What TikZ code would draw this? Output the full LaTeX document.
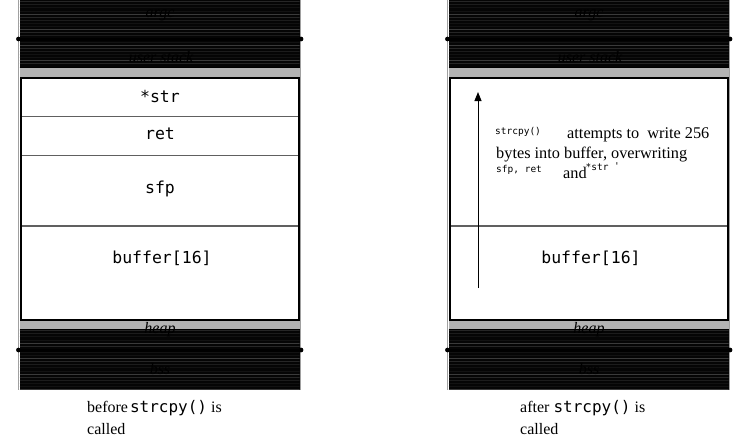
\documentclass[tikz,border=0pt]{standalone}
\usepackage{fontspec}
\setmainfont{Liberation Serif}
\newfontfamily\monof{DejaVu Sans Mono}
\usetikzlibrary{arrows.meta}
\definecolor{hatchbg}{HTML}{050505}
\definecolor{hl1}{HTML}{1C1C1C}
\definecolor{hl2}{HTML}{262626}
\definecolor{hl3}{HTML}{3A3A3A}
\definecolor{hl4}{HTML}{121212}
\definecolor{bandgray}{HTML}{B3B3B3}
\definecolor{outgray}{HTML}{A0A0A0}
\definecolor{cellline}{HTML}{606060}
\tikzset{
  outl/.style={draw=outgray, line width=1pt},
  bandfill/.style={fill=bandgray},
  boxline/.style={draw=black, line width=2pt, fill=white},
  cellsep/.style={draw=cellline, line width=1.4pt},
  divline/.style={draw=black, line width=3pt},
  divdot/.style={fill=black},
  darklabel/.style={font=\fontsize{16}{19}\selectfont\itshape, text=black, inner sep=0pt},
  celllabel/.style={font=\monof\fontsize{16.5}{19}\selectfont, inner sep=0pt},
  captext/.style={font=\fontsize{16}{19}\selectfont, inner sep=0pt, anchor=west},
  notetext/.style={font=\fontsize{16.3}{19}\selectfont, inner sep=0pt, anchor=west},
  notemono/.style={font=\monof\fontsize{9.5}{11}\selectfont, inner sep=0pt, anchor=west},
  growarrow/.style={draw=black, line width=1pt, -{Triangle[length=9pt,width=7pt]}}
}
\newcommand\hband[4]{%
  \fill[hatchbg] (#1,#3) rectangle (#2,#4);
  \begin{scope}
    \clip (#1,#3) rectangle (#2,#4);
    \foreach \k in {0,...,20}{%
      \pgfmathsetmacro\yy{#3+1.6+\k*3.1}%
      \pgfmathtruncatemacro\m{mod(\k*7+3,5)}%
      \ifcase\m \def\cc{hl1}\or \def\cc{hl3}\or \def\cc{hl4}\or \def\cc{hl2}\else \def\cc{hl4}\fi
      \draw[\cc, line width=0.7pt] (#1,\yy) -- (#2,\yy);
    }
  \end{scope}}
\newcommand\stackframe[2]{% #1 x offset, #2 prefix
  \begin{scope}[xshift=#1pt]
    \draw[outl] (18.5,0) -- (18.5,390);
    \draw[outl] (300.5,0) -- (300.5,390);
    \hband{19.5}{299.5}{0}{67}
    \hband{19.5}{299.5}{329}{390}
    \fill[bandfill] (19.5,67) rectangle (299.5,77.5);
    \draw[black, line width=1pt] (19.5,67) -- (299.5,67);
    \fill[bandfill] (19.5,320) rectangle (299.5,329);
    \draw[black, line width=1pt] (19.5,329) -- (299.5,329);
    \draw[boxline] (21,77.5) rectangle (298.5,320);
    \draw[cellsep] (22,226) -- (297.5,226);
    \coordinate (#2-dl1) at (18.5,39);
    \coordinate (#2-dr1) at (301,39);
    \coordinate (#2-dl2) at (18.5,350);
    \coordinate (#2-dr2) at (301,350);
    \draw[divline] (#2-dl1) -- (#2-dr1);
    \draw[divline] (#2-dl2) -- (#2-dr2);
    \fill[divdot] (#2-dl1) circle (2.4) (#2-dr1) circle (2.4)
                  (#2-dl2) circle (2.4) (#2-dr2) circle (2.4);
    \node[darklabel] (#2-argc) at (160,15) {argc};
    \node[darklabel] (#2-ustack) at (161,57) {user stack};
    \node[darklabel] (#2-heap) at (160,330) {heap};
    \node[darklabel] (#2-bss) at (160,369) {bss};
    \node[celllabel] (#2-buf) at (162,258) {buffer[16]};
  \end{scope}}
\begin{document}
\begin{tikzpicture}[x=1pt,y=-1pt]
\useasboundingbox (0,0) rectangle (745,442);
\fill[white] (0,0) rectangle (745,442);
\stackframe{0}{L}
\stackframe{429}{R}
% left cells
\draw[cellsep] (22,116.5) -- (297.5,116.5);
\draw[cellsep] (22,155.5) -- (297.5,155.5);
\node[celllabel] (Lstr) at (160,96) {*str};
\node[celllabel] (Lret) at (160,134) {ret};
\node[celllabel] (Lsfp) at (160,189) {sfp};
% right notes
\coordinate (arrS) at (478,288);
\coordinate (arrE) at (478,92);
\draw[growarrow] (arrS) -- (arrE);
\node[notemono] (n1) at (495,132) {strcpy()};
\node[notetext] (n2) at (567,135) {attempts to\ \ write 256};
\node[notetext] (n3) at (496,155) {bytes into buffer, overwriting};
\node[notemono] (n4) at (496,170) {sfp, ret};
\node[notetext] (n5) at (563,173) {and};
\node[notemono] (n6) at (585.5,167) {*str};
\node[notemono] (n7) at (614,166) {'};
% captions
\node[captext] (c1) at (87,408) {before\hspace{2pt}{\monof strcpy()} is};
\node[captext] (c2) at (87,429) {called};
\node[captext] (c3) at (520,408) {after {\monof strcpy()} is};
\node[captext] (c4) at (520,429) {called};
\end{tikzpicture}
\end{document}
